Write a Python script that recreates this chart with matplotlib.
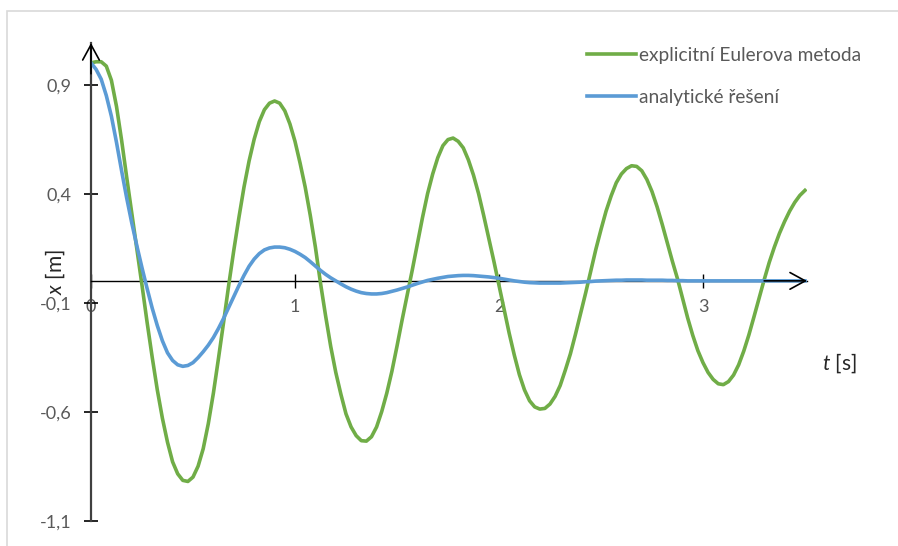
import numpy as np
import matplotlib
matplotlib.use("Agg")
import matplotlib.pyplot as plt
from matplotlib.patches import Rectangle

plt.rcParams['font.family'] = ['Lato', 'DejaVu Sans']
plt.rcParams['mathtext.fontset'] = 'custom'
plt.rcParams['mathtext.rm'] = 'Lato'
plt.rcParams['mathtext.it'] = 'Lato:italic'

# explicit Euler, step 0.025 s
t_euler = np.round(np.arange(0, 3.5001, 0.025), 3)
x_euler = [
    1.000, 1.005, 1.005, 0.985, 0.920, 0.800, 0.645, 0.475, 0.310, 0.145,
    -0.020, -0.190, -0.350, -0.500, -0.630, -0.740, -0.830, -0.885, -0.915, -0.920,
    -0.900, -0.850, -0.770, -0.655, -0.515, -0.355, -0.190, -0.020, 0.140, 0.290,
    0.430, 0.550, 0.650, 0.730, 0.785, 0.815, 0.825, 0.815, 0.780, 0.720,
    0.640, 0.540, 0.430, 0.300, 0.155, -0.010, -0.160, -0.300, -0.420, -0.520,
    -0.610, -0.670, -0.710, -0.733, -0.735, -0.715, -0.670, -0.600, -0.515, -0.415,
    -0.300, -0.180, -0.065, 0.050, 0.170, 0.290, 0.400, 0.490, 0.565, 0.620,
    0.648, 0.655, 0.640, 0.610, 0.555, 0.485, 0.400, 0.300, 0.195, 0.090,
    -0.020, -0.130, -0.240, -0.340, -0.430, -0.500, -0.550, -0.578, -0.588, -0.585,
    -0.565, -0.530, -0.480, -0.410, -0.335, -0.245, -0.150, -0.055, 0.045, 0.145,
    0.235, 0.320, 0.390, 0.450, 0.490, 0.515, 0.528, 0.525, 0.505, 0.465,
    0.410, 0.340, 0.260, 0.175, 0.090, 0.010, -0.080, -0.170, -0.250, -0.320,
    -0.375, -0.420, -0.452, -0.472, -0.476, -0.462, -0.432, -0.385, -0.322, -0.248,
    -0.165, -0.080, 0.005, 0.085, 0.155, 0.218, 0.272, 0.320, 0.360, 0.392,
    0.415,
]

# analytic solution, step 0.025 s
t_exact = np.round(np.arange(0, 3.5001, 0.025), 3)
x_exact = [
    1.000, 0.970, 0.925, 0.850, 0.755, 0.635, 0.505, 0.380, 0.265, 0.160,
    0.060, -0.035, -0.125, -0.205, -0.275, -0.330, -0.365, -0.385, -0.392, -0.388,
    -0.375, -0.352, -0.325, -0.295, -0.260, -0.218, -0.172, -0.122, -0.072, -0.022,
    0.025, 0.067, 0.100, 0.125, 0.142, 0.151, 0.155, 0.155, 0.152, 0.145,
    0.135, 0.122, 0.107, 0.088, 0.068, 0.048, 0.030, 0.014, 0.000, -0.014,
    -0.027, -0.038, -0.047, -0.054, -0.058, -0.060, -0.060, -0.058, -0.054, -0.048,
    -0.042, -0.035, -0.028, -0.020, -0.012, -0.005, 0.002, 0.007, 0.012, 0.016,
    0.020, 0.022, 0.024, 0.025, 0.025, 0.024, 0.022, 0.020, 0.018, 0.015,
    0.012, 0.008, 0.004, 0.000, -0.003, -0.006, -0.008, -0.009, -0.010, -0.010,
    -0.010, -0.010, -0.010, -0.009, -0.008, -0.007, -0.006, -0.004, -0.003, -0.001,
    0.000, 0.001, 0.002, 0.003, 0.003, 0.004, 0.004, 0.004, 0.004, 0.003,
    0.003, 0.003, 0.003, 0.002, 0.002, 0.001, 0.001, 0.000, 0.000, 0.000,
    0.000, 0.000, 0.000, 0.000, 0.000, 0.000, 0.000, 0.000, 0.000, 0.000,
    0.000, 0.000, 0.000, 0.000, 0.000, 0.000, 0.000, 0.000, 0.000, 0.000,
    0.000,
]

x_ticks = [0, 1, 2, 3]
y_ticks = [0.9, 0.4, -0.1, -0.6, -1.1]
y_ticklabels = ['0,9', '0,4', '-0,1', '-0,6', '-1,1']
labels = ['explicitní Eulerova metoda', 'analytické řešení']

GREEN = '#70AD47'
BLUE = '#5B9BD5'
TICK_GREY = '#595959'

fig = plt.figure(figsize=(8.98, 5.46), dpi=100)
ax = fig.add_axes([91 / 898, 25.3 / 546, 716 / 898, 477.7 / 546])
ax.set_xlim(0, 3.51)
ax.set_ylim(-1.1, 1.091)

ax.plot(t_euler, x_euler, color=GREEN, lw=2.6, label=labels[0], zorder=3,
        solid_joinstyle='round')
ax.plot(t_exact, x_exact, color=BLUE, lw=2.6, label=labels[1], zorder=4,
        solid_joinstyle='round')

# axes through the origin
for s in ['top', 'right']:
    ax.spines[s].set_visible(False)
ax.spines['bottom'].set_position(('data', 0))
ax.spines['bottom'].set_color('black')
ax.spines['bottom'].set_linewidth(1.0)
ax.spines['left'].set_color('#404040')
ax.spines['left'].set_linewidth(1.6)

ax.set_xticks(x_ticks)
ax.set_xticklabels([str(v) for v in x_ticks])
ax.set_yticks(y_ticks)
ax.set_yticklabels(y_ticklabels)
ax.tick_params(axis='x', direction='inout', length=10, width=1.0,
               colors='black', labelcolor=TICK_GREY, labelsize=13, pad=8)
ax.tick_params(axis='y', direction='inout', length=10, width=1.2,
               colors='black', labelcolor=TICK_GREY, labelsize=13, pad=9)

# arrow heads
arrow = dict(arrowstyle='->,head_length=0.55,head_width=0.3', lw=1.2,
             color='black', shrinkA=0, shrinkB=0, mutation_scale=20)
ax.annotate('', xy=(3.51, 0), xytext=(3.3, 0), arrowprops=arrow,
            annotation_clip=False, zorder=6)
ax.annotate('', xy=(0, 1.091), xytext=(0, 0.95), arrowprops=arrow,
            annotation_clip=False, zorder=6)

fig.text(55 / 898, 1 - 272 / 546, '$x$ [m]', rotation=90, ha='center',
         va='center', fontsize=15, color='#262626')
fig.text(839 / 898, 1 - 363 / 546, '$t$ [s]', ha='center', va='center',
         fontsize=15, color='#262626')

fig.legend(loc='upper left', bbox_to_anchor=(587 / 898, 1 - 47 / 546),
           bbox_transform=fig.transFigure, frameon=False, fontsize=13.8,
           handlelength=2.55, handletextpad=0.15, labelspacing=1.3,
           borderpad=0, borderaxespad=0, labelcolor=TICK_GREY)

# chart frame
fig.patches.append(Rectangle((7 / 898, -0.1), 1.2, 1 - 11 / 546 + 0.1,
                             transform=fig.transFigure, fill=False,
                             edgecolor='#D9D9D9', lw=1.2))

fig.savefig('out.png', dpi=100)
